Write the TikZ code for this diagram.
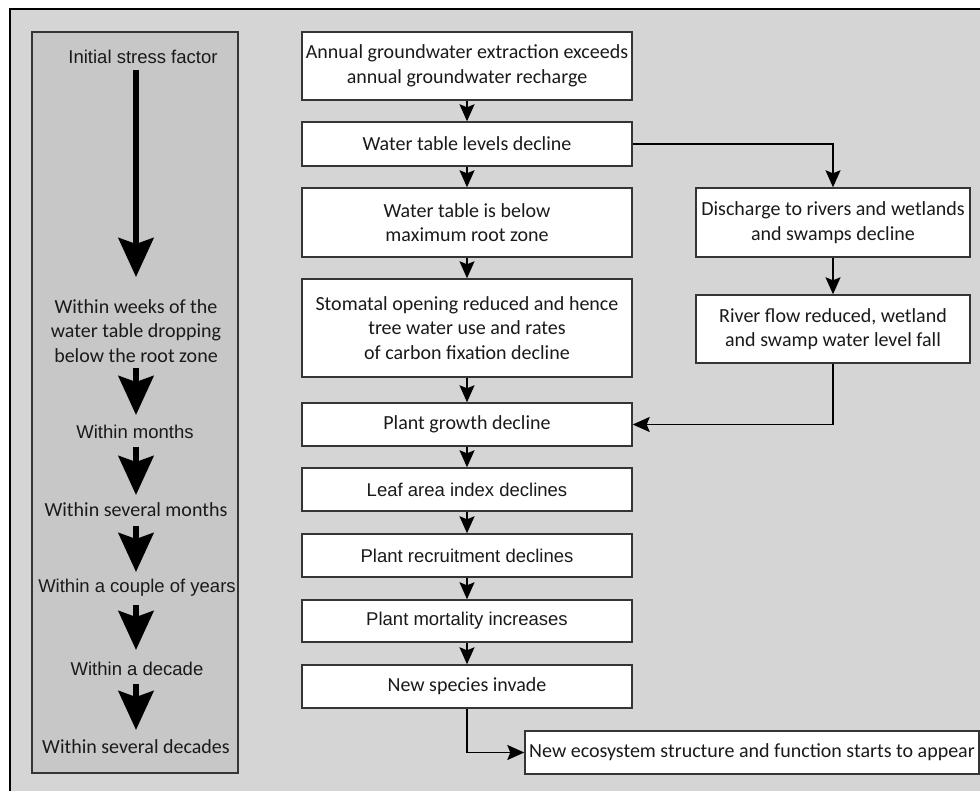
\documentclass[tikz,border=0pt]{standalone}
\usepackage{fontspec}
\setmainfont{Carlito}
\newfontfamily\arialf{Liberation Sans}
\usetikzlibrary{arrows.meta}
\definecolor{bgout}{HTML}{D5D5D5}
\definecolor{bgleft}{HTML}{C7C7C7}
\definecolor{edgec}{HTML}{353535}
\definecolor{txt}{HTML}{1A1A1A}
\newcommand\calf{\fontsize{20}{24.5}\selectfont}
\newcommand\arf{\arialf\fontsize{18.5}{24.5}\selectfont}
\begin{document}
\begin{tikzpicture}[x=1pt,y=-1pt,
  box/.style={draw=edge c, line width=1.4pt, fill=white, inner sep=1pt, align=center, text=txt, font=\calf},
  abox/.style={box, font=\arf},
  lbl/.style={align=center, text=txt, inner sep=0pt},
  conn/.style={line width=1.5pt, draw=black, -{Stealth[length=17pt,width=15pt,inset=3pt]}},
  bigarrow/.style={line width=6pt, draw=black, -{Stealth[length=39pt,width=35pt,inset=6pt]}},
]
\colorlet{edge c}{edgec}
\useasboundingbox (0,0) rectangle (980,791);
% outer background
\fill[white] (0,0) rectangle (980,791);
\fill[bgout] (10,9) rectangle (980,791);
\draw[line width=1.5pt, black] (10,791) -- (10,9) -- (980,9);
% left panel
\draw[fill=bgleft, draw=edgec, line width=1.3pt] (32,32) rectangle (238,773);

\node[lbl, font=\arf] (t0) at (143,57) {Initial stress factor};
\node[lbl, font=\calf] (t1) at (136,331) {Within weeks of the\\water table dropping\\below the root zone};
\node[lbl, font=\arf] (t2) at (135,432) {Within months};
\node[lbl, font=\calf] (t3) at (136,510) {Within several months};
\node[lbl, font=\arf] (t4) at (137,588) {Within a couple of years};
\node[lbl, font=\arf] (t5) at (137,669) {Within a decade};
\node[lbl, font=\calf] (t6) at (136,747) {Within several decades};

\coordinate (a1s) at (136,70);  \coordinate (a1e) at (136,277);
\coordinate (a2s) at (136,368); \coordinate (a2e) at (136,415);
\coordinate (a3s) at (136,447); \coordinate (a3e) at (136,495);
\coordinate (a4s) at (136,526); \coordinate (a4e) at (136,572);
\coordinate (a5s) at (136,605); \coordinate (a5e) at (136,650);
\coordinate (a6s) at (136,684); \coordinate (a6e) at (136,730);
\draw[bigarrow] (a1s) -- (a1e);
\draw[bigarrow] (a2s) -- (a2e);
\draw[bigarrow] (a3s) -- (a3e);
\draw[bigarrow] (a4s) -- (a4e);
\draw[bigarrow] (a5s) -- (a5e);
\draw[bigarrow] (a6s) -- (a6e);

% main column
\node[box, minimum width=330pt, minimum height=68pt] (b1) at (467,66) {Annual groundwater extraction exceeds\\annual groundwater recharge};
\node[box, minimum width=330pt, minimum height=44pt] (b2) at (467,144) {Water table levels decline};
\node[box, minimum width=330pt, minimum height=69pt] (b3) at (467,222.5) {Water table is below\\maximum root zone};
\node[box, minimum width=330pt, minimum height=98pt] (b4) at (467,328) {Stomatal opening reduced and hence\\tree water use and rates\\of carbon fixation decline};
\node[box, minimum width=330pt, minimum height=43pt] (b5) at (467,424.5) {Plant growth decline};
\node[abox, minimum width=330pt, minimum height=43pt] (b6) at (467,489.5) {Leaf area index declines};
\node[abox, minimum width=330pt, minimum height=43pt] (b7) at (467,555.5) {Plant recruitment declines};
\node[abox, minimum width=330pt, minimum height=42pt] (b8) at (467,621) {Plant mortality increases};
\node[box, minimum width=330pt, minimum height=43pt] (b9) at (467,686.5) {New species invade};
\node[box, minimum width=454pt, minimum height=43pt] (b10) at (752,752.5) {New ecosystem structure and function starts to appear};

% right column
\node[box, minimum width=274pt, minimum height=69pt] (r1) at (833,222.5) {Discharge to rivers and wetlands\\and swamps decline};
\node[box, minimum width=274pt, minimum height=68pt] (r2) at (833,329) {River flow reduced, wetland\\and swamp water level fall};

% connectors
\draw[conn] (b1) -- (b2);
\draw[conn] (b2) -- (b3);
\draw[conn] (b3) -- (b4);
\draw[conn] (b4) -- (b5);
\draw[conn] (b5) -- (b6);
\draw[conn] (b6) -- (b7);
\draw[conn] (b7) -- (b8);
\draw[conn] (b8) -- (b9);
\draw[conn] (b2.east) -| (r1.north);
\draw[conn] (r1) -- (r2);
\draw[conn] (r2.south) |- (b5.east);
\draw[conn] (b9.south) |- (b10.west);
\end{tikzpicture}
\end{document}
